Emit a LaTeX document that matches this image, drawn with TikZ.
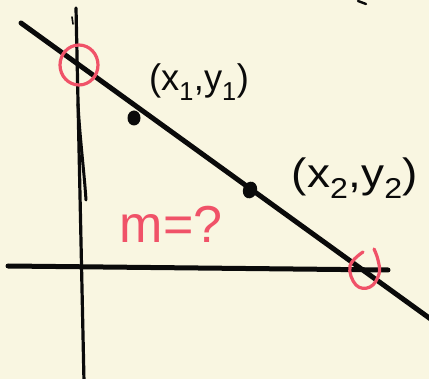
\documentclass[tikz,border=0pt]{standalone}
\usepackage{fontspec}
\setmainfont{Liberation Sans}
\usetikzlibrary{shapes.geometric}
\definecolor{paper}{RGB}{249,246,225}
\definecolor{pen}{RGB}{10,10,10}
\definecolor{redpen}{RGB}{240,82,104}
\tikzset{
  ink/.style={draw=pen, line cap=round, line join=round},
  redink/.style={draw=redpen, line width=3.2pt, line cap=round, line join=round},
  hand/.style={text=pen, inner sep=0pt},
}
\begin{document}
\begin{tikzpicture}[x=1pt,y=-1pt]
\fill[paper] (0,0) rectangle (429,379);
\useasboundingbox (0,0) rectangle (429,379);
% coordinates
\coordinate (lineA) at (21,23);
\coordinate (lineB) at (432,320);
\coordinate (yTop) at (76,8);
\coordinate (yBot) at (84,382);
\coordinate (xL) at (8,266);
\coordinate (xR) at (388,270);
\coordinate (p1) at (134,118);
\coordinate (p2) at (250,190);
% axes
\draw[ink, line width=3.2pt] (yTop) -- (yBot);
\draw[ink, line width=3pt] (78,104) .. controls (80,140) and (84,170) .. (86,200);
\draw[ink, line width=1.6pt] (72,17) -- (73,24);
\draw[ink, line width=5pt] (xL) -- (xR);
% main line
\draw[ink, line width=5pt] (lineA) -- (lineB);
% points
\fill[pen] (p1) ellipse [x radius=6.5, y radius=7.5];
\fill[pen, rotate around={-20:(p2)}] (p2) ellipse [x radius=7, y radius=8.5];
% intercept circles
\draw[redink] (79,65) ellipse [x radius=19, y radius=20];
\draw[redink] plot[smooth, tension=0.7] coordinates {(363,252) (350,266) (356,285) (370,287) (379,274) (378,260) (374,249)};
% top right stray stroke
\draw[ink, line width=2.4pt] (358,1) -- (366,4);
% labels
\node[hand, font=\fontsize{37}{37}\selectfont, xscale=0.98] (t1) at (199,82) {(x$_{\mathrm{1}}$,y$_{\mathrm{1}}$)};
\node[hand, font=\fontsize{41}{41}\selectfont, xscale=1.12] (t2) at (355,178) {(x$_{\mathrm{2}}$,y$_{\mathrm{2}}$)};
\node[hand, text=redpen, font=\fontsize{52}{52}\selectfont] (t3) at (171,224) {m=?};
\end{tikzpicture}
\end{document}
